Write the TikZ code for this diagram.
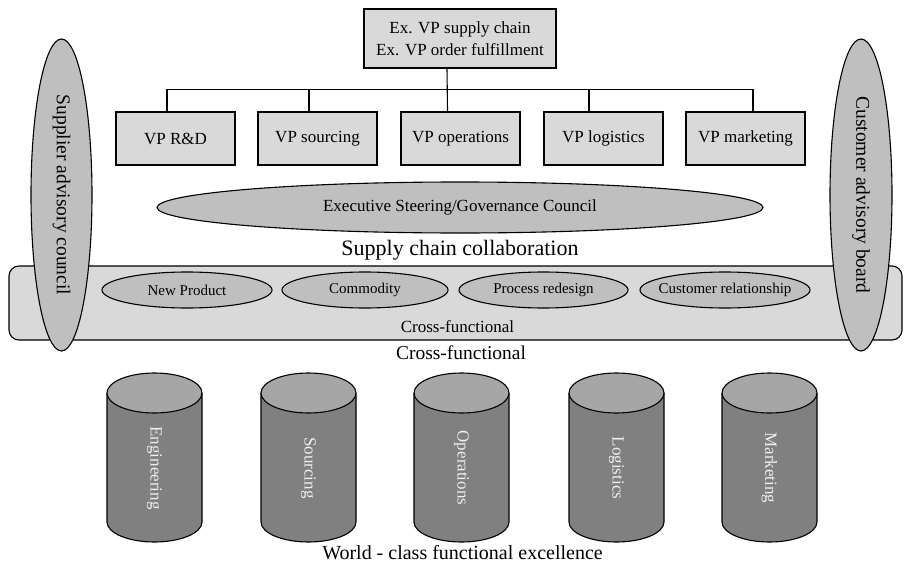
\documentclass[tikz,border=0pt]{standalone}
\usepackage{fontspec}
\setmainfont{Liberation Serif}
\usepackage{xcolor}
\usetikzlibrary{shapes.geometric}

\begin{document}
\begin{tikzpicture}[x=1pt,y=1pt,line width=1.1pt,
  vpbox/.style={draw,fill=lightfill,minimum width=119pt,minimum height=53pt,inner sep=0pt,font=\fontsize{17}{22}\selectfont},
  smallell/.style={draw,ellipse,fill=midfill,minimum width=170pt,minimum height=36pt,inner sep=0pt},
  sideell/.style={draw,ellipse,fill=midfill,minimum height=312pt,inner sep=0pt},
  ellipselabel/.style={font=\fontsize{15}{18}\selectfont}]
% Define colors
\definecolor{lightfill}{RGB}{217,217,217}
\definecolor{midfill}{RGB}{191,191,191}
\definecolor{cylbody}{RGB}{128,128,128}
\definecolor{cylcap}{RGB}{166,166,166}
\definecolor{cyltext}{RGB}{240,240,240}

\useasboundingbox (0,0) rectangle (904,574);

% Top of the tree
\node[vpbox,minimum width=192pt,minimum height=59pt,align=center] (top) at (460,535.5)
  {Ex. VP supply chain\\Ex. VP order fulfillment};

% VP boxes
\node[vpbox] (rd)  at (175.5,435.5) {VP R\&D};
\node[vpbox] (src) at (317.5,435.5) {VP sourcing};
\node[vpbox] (ops) at (460.5,435.5) {VP operations};
\node[vpbox] (log) at (603.5,435.5) {VP logistics};
\node[vpbox] (mkt) at (745.5,435.5) {VP marketing};

% Tree connectors
\draw ([xshift=-13pt]top.south) -- ([xshift=-13pt]ops.north);
\draw ([xshift=-8.5pt]rd.north) -- ++(0,22) -| ([xshift=7.5pt]mkt.north);
\foreach \n/\dx in {src/-8.5,log/-14.5}
  \draw ([xshift=\dx pt]\n.north) -- ++(0,22);

% Steering council
\node[draw,ellipse,fill=midfill,minimum width=606pt,minimum height=51pt,inner sep=0pt,
  label={[font=\fontsize{17}{20}\selectfont]center:Executive Steering/Governance Council}] (exec) at (460,366.5) {};
\node[font=\fontsize{22}{26}\selectfont] (collab) at (460,324) {Supply chain collaboration};

% Cross-functional band
\node[draw,fill=lightfill,rounded corners=10pt,minimum width=893pt,minimum height=74pt,inner sep=0pt] (band) at (455.5,271) {};
\node[smallell,label={[ellipselabel]center:New Product}] (np) at (187,284) {};
\node[smallell,minimum width=166pt,label={[ellipselabel]center:Commodity}] (com) at (365,284) {};
\node[smallell,minimum width=169pt,label={[ellipselabel]center:Process redesign}] (proc) at (543.5,284) {};
\node[smallell,label={[ellipselabel]center:Customer relationship}] (cust) at (725,284) {};
\node[font=\fontsize{17}{20}\selectfont] (cfin) at (457.5,247) {Cross-functional};
\node[font=\fontsize{19.5}{23}\selectfont] (cfout) at (461,221) {Cross-functional};

% Advisory bodies
\node[sideell,minimum width=61pt,label={[rotate=-90,font=\fontsize{19.5}{23}\selectfont]center:Supplier advisory council}] (sup) at (61.5,379) {};
\node[sideell,minimum width=62pt,label={[rotate=-90,font=\fontsize{19.5}{23}\selectfont]center:Customer advisory board}] (cus) at (861,379) {};

% Functional pillars
\foreach \cx/\name [count=\i] in {154.5/Engineering,308.5/Sourcing,461.5/Operations,616.5/Logistics,769.5/Marketing}{
\begin{scope}[shift={(\cx,0)}]
\fill[cylbody] (-47.5,181) -- (-47.5,52) arc[start angle=180,end angle=360,x radius=47.5,y radius=20] -- (47.5,181) -- cycle;
\draw (-47.5,181) -- (-47.5,52) arc[start angle=180,end angle=360,x radius=47.5,y radius=20] -- (47.5,181);
\filldraw[fill=cylcap] (0,181) ellipse [x radius=47.5,y radius=20];
\node[rotate=-90,text=cyltext,font=\fontsize{17}{20}\selectfont] (cyl\i) at (0,106) {\name};
\end{scope}
}

% Bottom caption
\node[font=\fontsize{20}{24}\selectfont] (world) at (462.5,21) {World - class functional excellence};

\end{tikzpicture}
\end{document}
